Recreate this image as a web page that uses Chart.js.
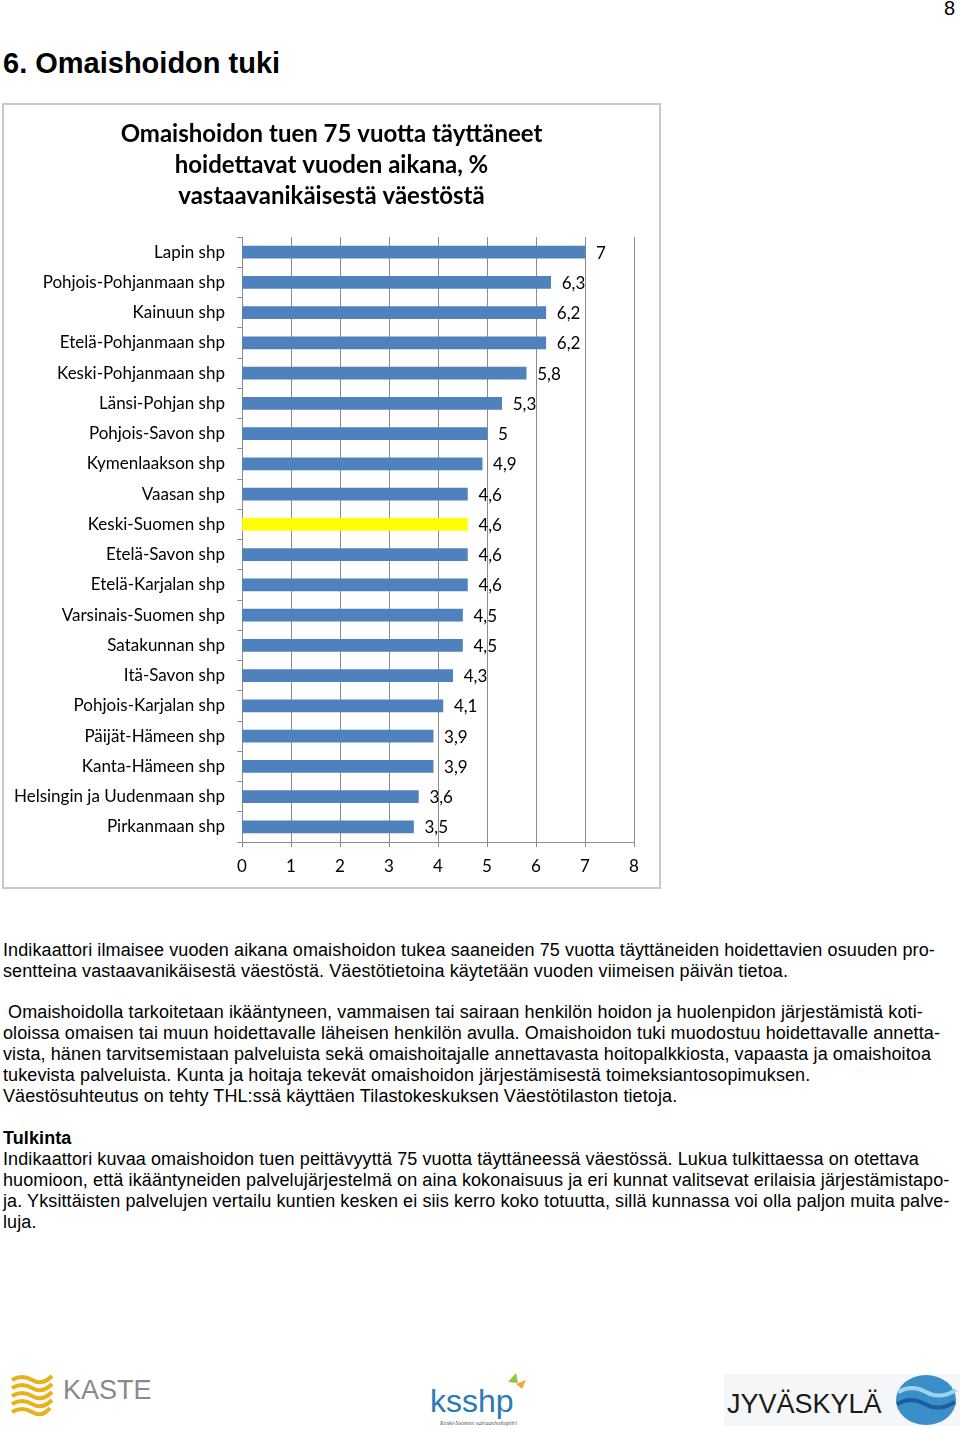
<!DOCTYPE html>
<html lang="fi">
<head>
    <meta charset="UTF-8">
    <title>Omaishoidon tuki</title>
    <script src="https://cdn.jsdelivr.net/npm/chart.js"></script>
    <style>
        body { margin: 0; background: #fff; width: 960px; height: 1429px; position: relative; font-family: "Liberation Sans", Arial, sans-serif; color: #000; }
        .page-no { position: absolute; left: 944px; top: -3px; font-size: 20px; }
        h1 { position: absolute; left: 3px; top: 47px; margin: 0; font-size: 29px; font-weight: bold; }
        .chart-box { position: absolute; left: 2px; top: 103px; width: 655px; height: 782px; border: 2px solid #c8c8c8; }
        .text { position: absolute; left: 3px; font-size: 18px; letter-spacing: 0.1px; line-height: 21px; white-space: nowrap; }
        .logos { position: absolute; top: 1368px; left: 0; }
    </style>
</head>
<body>

<div class="page-no">8</div>
<h1>6. Omaishoidon tuki</h1>

<div class="chart-box">
    <canvas id="chart" width="655" height="782"></canvas>
</div>

<div class="text" style="top: 940px">
    Indikaattori ilmaisee vuoden aikana omaishoidon tukea saaneiden 75 vuotta täyttäneiden hoidettavien osuuden pro-<br>
    sentteina vastaavanikäisestä väestöstä. Väestötietoina käytetään vuoden viimeisen päivän tietoa.
</div>

<div class="text" style="top: 1002px">
    &nbsp;Omaishoidolla tarkoitetaan ikääntyneen, vammaisen tai sairaan henkilön hoidon ja huolenpidon järjestämistä koti-<br>
    oloissa omaisen tai muun hoidettavalle läheisen henkilön avulla. Omaishoidon tuki muodostuu hoidettavalle annetta-<br>
    vista, hänen tarvitsemistaan palveluista sekä omaishoitajalle annettavasta hoitopalkkiosta, vapaasta ja omaishoitoa<br>
    tukevista palveluista. Kunta ja hoitaja tekevät omaishoidon järjestämisestä toimeksiantosopimuksen.<br>
    Väestösuhteutus on tehty THL:ssä käyttäen Tilastokeskuksen Väestötilaston tietoja.
</div>

<div class="text" style="top: 1128px">
    <b>Tulkinta</b><br>
    Indikaattori kuvaa omaishoidon tuen peittävyyttä 75 vuotta täyttäneessä väestössä. Lukua tulkittaessa on otettava<br>
    huomioon, että ikääntyneiden palvelujärjestelmä on aina kokonaisuus ja eri kunnat valitsevat erilaisia järjestämistapo-<br>
    ja. Yksittäisten palvelujen vertailu kuntien kesken ei siis kerro koko totuutta, sillä kunnassa voi olla paljon muita palve-<br>
    luja.
</div>

<svg class="logos" width="960" height="61" viewBox="0 0 960 61">
    <!-- KASTE -->
    <g fill="none" stroke="#e8b21e" stroke-width="4">
        <path d="M12 12 q10 -6 20 0 t20 -4"/>
        <path d="M12 20 q10 -6 20 0 t20 -4"/>
        <path d="M12 28 q10 -6 20 0 t20 -4"/>
        <path d="M12 36 q10 -6 20 0 t20 -4"/>
        <path d="M12 44 q10 -6 20 0 t18 -4"/>
    </g>
    <text x="63" y="31" font-family="Liberation Sans" font-size="27" fill="#8a8a8a">KASTE</text>
    <!-- ksshp -->
    <text x="430" y="44" font-family="Liberation Sans" font-size="32" fill="#2a7ab8">ksshp</text>
    <path d="M508 14 l8 -9 l2 10 z" fill="#8dc63f"/>
    <path d="M516 16 l10 -4 l-4 9 z" fill="#f0a830"/>
    <text x="440" y="57" font-family="Liberation Serif" font-style="italic" font-size="6" fill="#555">Keski-Suomen sairaanhoitopiiri</text>
    <!-- Jyväskylä -->
    <rect x="724" y="6" width="236" height="52" fill="#f4f6f7"/>
    <text x="727" y="45" font-family="Liberation Sans" font-size="27" fill="#1a1a1a">JYVÄSKYLÄ</text>
    <ellipse cx="926" cy="32" rx="30" ry="25" fill="#3b8fc8"/>
    <path d="M898 24 q14 -8 28 0 t30 -2" fill="none" stroke="#9ed3ee" stroke-width="4"/>
    <path d="M897 36 q14 -8 28 0 t30 -2" fill="none" stroke="#1d5f9c" stroke-width="4"/>
</svg>

<script>
    const regions = [
        'Lapin shp', 'Pohjois-Pohjanmaan shp', 'Kainuun shp', 'Etelä-Pohjanmaan shp',
        'Keski-Pohjanmaan shp', 'Länsi-Pohjan shp', 'Pohjois-Savon shp', 'Kymenlaakson shp',
        'Vaasan shp', 'Keski-Suomen shp', 'Etelä-Savon shp', 'Etelä-Karjalan shp',
        'Varsinais-Suomen shp', 'Satakunnan shp', 'Itä-Savon shp', 'Pohjois-Karjalan shp',
        'Päijät-Hämeen shp', 'Kanta-Hämeen shp', 'Helsingin ja Uudenmaan shp', 'Pirkanmaan shp'
    ]
    const values = [7, 6.3, 6.2, 6.2, 5.8, 5.3, 5, 4.9, 4.6, 4.6, 4.6, 4.6, 4.5, 4.5, 4.3, 4.1, 3.9, 3.9, 3.6, 3.5]
    const highlighted = 'Keski-Suomen shp'
    const xTicks = [0, 1, 2, 3, 4, 5, 6, 7, 8]
    const titleLines = [
        'Omaishoidon tuen 75 vuotta täyttäneet',
        'hoidettavat vuoden aikana, %',
        'vastaavanikäisestä väestöstä'
    ]

    const barColors = regions.map(r => r === highlighted ? '#ffff00' : '#4f81bd')

    // value labels right of each bar, with comma decimals
    const valueLabels = {
        id: 'valueLabels',
        afterDatasetsDraw(chart) {
            const ctx = chart.ctx
            const meta = chart.getDatasetMeta(0)
            ctx.save()
            ctx.font = '17px Lato'
            ctx.fillStyle = '#000'
            ctx.textBaseline = 'middle'
            meta.data.forEach((bar, i) => {
                ctx.fillText(String(values[i]).replace('.', ','), bar.x + 11, bar.y + 1)
            })
            ctx.restore()
        }
    }

    new Chart(document.getElementById('chart'), {
        type: 'bar',
        data: {
            labels: regions,
            datasets: [{
                data: values,
                backgroundColor: barColors,
                borderWidth: 0,
                barThickness: 12
            }]
        },
        options: {
            indexAxis: 'y',
            responsive: false,
            animation: false,
            layout: { padding: 0 },
            plugins: {
                legend: { display: false },
                tooltip: { enabled: false },
                title: {
                    display: true,
                    text: titleLines,
                    color: '#000',
                    font: { family: 'Lato', size: 24, weight: 'bold', lineHeight: '31px' },
                    padding: { top: 14, bottom: 25 }
                }
            },
            scales: {
                x: {
                    min: 0,
                    max: 8,
                    afterFit: s => { s.height = 45 },
                    afterBuildTicks: s => { s.ticks = xTicks.map(v => ({ value: v })) },
                    ticks: { color: '#000', font: { family: 'Lato', size: 17 }, padding: 9 },
                    grid: { color: '#8c8c8c', tickLength: 5 },
                    border: { color: '#8c8c8c' }
                },
                y: {
                    afterFit: s => { s.width = 238 },
                    ticks: { color: '#000', font: { family: 'Lato', size: 17 }, padding: 12 },
                    grid: { drawOnChartArea: false, color: '#8c8c8c', tickLength: 5, offset: true },
                    border: { color: '#8c8c8c' }
                },
                // empty spacer on the right so the plot ends at 8 like the original
                spacer: {
                    type: 'linear',
                    position: 'right',
                    display: true,
                    afterFit: s => { s.width = 25 },
                    ticks: { display: false },
                    grid: { display: false },
                    border: { display: false }
                }
            }
        },
        plugins: [valueLabels]
    })
</script>

</body>
</html>
